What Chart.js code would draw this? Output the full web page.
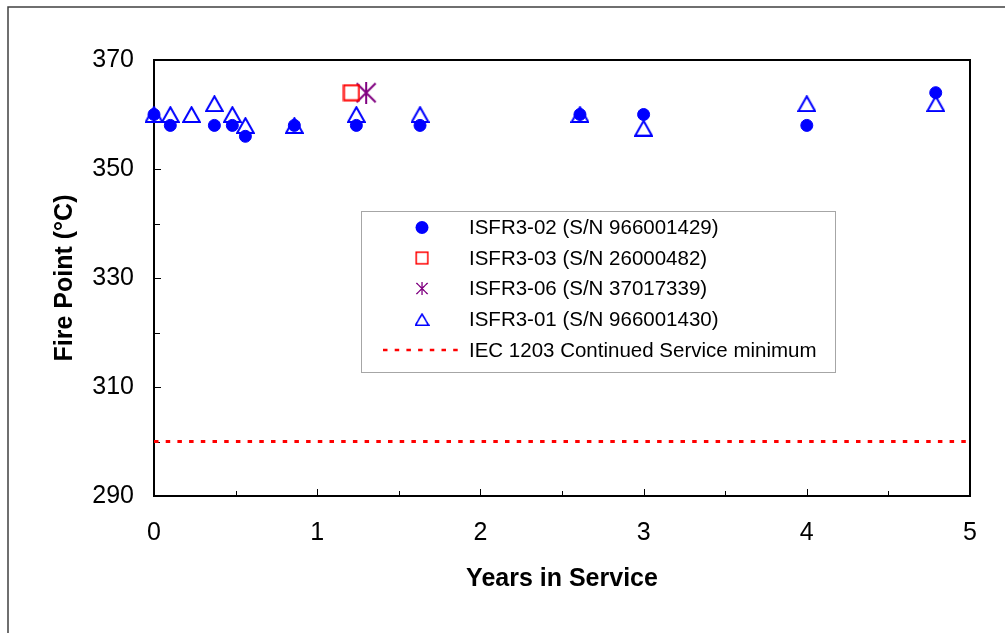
<!DOCTYPE html>
<html><head><meta charset="utf-8">
<script src="https://cdn.jsdelivr.net/npm/chart.js@4.4.1/dist/chart.umd.min.js"></script>
<style>html,body{margin:0;padding:0;background:#fff;}#wrap{position:relative;width:1005px;height:633px;}</style>
</head><body><div id="wrap"><canvas id="c"></canvas></div>
<script>
// ---- data ----
const seriesNames = ['ISFR3-02 (S/N 966001429)', 'ISFR3-03 (S/N 26000482)', 'ISFR3-06 (S/N 37017339)', 'ISFR3-01 (S/N 966001430)', 'IEC 1203 Continued Service minimum'];
const years02 = [0, 0.1, 0.37, 0.48, 0.56, 0.86, 1.24, 1.63, 2.61, 3.0, 4.0, 4.79];
const fire02  = [360, 358, 358, 358, 356, 358, 358, 358, 360, 360, 358, 364];
const years03 = [1.21];
const fire03  = [364];
const years06 = [1.3];
const fire06  = [364];
const years01 = [0, 0.1, 0.23, 0.37, 0.48, 0.56, 0.86, 1.24, 1.63, 2.61, 3.0, 4.0, 4.79];
const fire01  = [360, 360, 360, 362, 360, 358, 358, 360, 360, 360, 357.5, 362, 362];
const limitYears = [0, 5];
const limitFire  = [300, 300];
const xLabelValues = [0, 1, 2, 3, 4, 5];
const yLabelValues = [290, 310, 330, 350, 370];
const xTitle = 'Years in Service';
const yTitle = 'Fire Point (°C)';

const FONT = "'Liberation Sans', Arial, sans-serif";
const pts = (xs, ys) => xs.map((x, i) => ({x, y: ys[i]}));

function makeMarker(kind, w, h) {
  const c = document.createElement('canvas');
  c.width = w; c.height = h;
  const g = c.getContext('2d');
  g.lineWidth = 2;
  if (kind === 'triangle') {
    g.strokeStyle = '#0000ff';
    g.beginPath();
    g.moveTo(w / 2, 1.2);
    g.lineTo(1.2, h - 1);
    g.lineTo(w - 1.2, h - 1);
    g.closePath();
    g.stroke();
  } else if (kind === 'square') {
    g.strokeStyle = '#ff0000';
    g.strokeRect(1.5, 1.5, w - 3, h - 3);
  } else if (kind === 'star') {
    g.strokeStyle = '#800080';
    g.beginPath();
    g.moveTo(1.5, 1.5); g.lineTo(w - 1.5, h - 1.5);
    g.moveTo(w - 1.5, 1.5); g.lineTo(1.5, h - 1.5);
    g.moveTo(w / 2, 0); g.lineTo(w / 2, h);
    g.stroke();
  }
  return c;
}
const triImg = makeMarker('triangle', 19, 17);
const sqImg = makeMarker('square', 18, 18);
const starImg = makeMarker('star', 22, 22);

const framePlugin = {
  id: 'frame',
  beforeDraw(chart) {
    const ctx = chart.ctx;
    ctx.save();
    ctx.strokeStyle = '#404040';
    ctx.lineWidth = 1.5;
    ctx.beginPath();
    ctx.moveTo(8, 640); ctx.lineTo(8, 7); ctx.lineTo(1010, 7);
    ctx.stroke();
    ctx.restore();
  },
  beforeDatasetsDraw(chart) {
    const ctx = chart.ctx, a = chart.chartArea;
    const xs = chart.scales.x, ys = chart.scales.y;
    ctx.save();
    ctx.strokeStyle = '#000';
    ctx.lineWidth = 1;
    ctx.beginPath();
    xs.ticks.forEach(t => {
      const p = Math.round(xs.getPixelForValue(t.value)) + 0.5;
      const len = xLabelValues.includes(t.value) ? 7 : 5;
      ctx.moveTo(p, a.bottom); ctx.lineTo(p, a.bottom - len);
    });
    ys.ticks.forEach(t => {
      const p = Math.round(ys.getPixelForValue(t.value)) + 0.5;
      const len = yLabelValues.includes(t.value) ? 7 : 6;
      ctx.moveTo(a.left, p); ctx.lineTo(a.left + len, p);
    });
    ctx.stroke();
    ctx.lineWidth = 2;
    ctx.strokeRect(a.left, a.top, a.right - a.left, a.bottom - a.top);
    ctx.restore();
  },
  afterDraw(chart) {
    const ctx = chart.ctx;
    ctx.save();
    const bx = 361, by = 211, bw = 474, bh = 161;
    ctx.fillStyle = '#fff';
    ctx.fillRect(bx, by, bw, bh);
    ctx.strokeStyle = '#a6a6a6';
    ctx.lineWidth = 1;
    ctx.strokeRect(bx + 0.5, by + 0.5, bw, bh);
    const rows = [227.5, 258, 288.5, 319.5, 350];
    const mx = 422, tx = 469;
    ctx.font = '20.5px ' + FONT;
    ctx.fillStyle = '#000';
    ctx.textBaseline = 'middle';
    ctx.textAlign = 'left';
    seriesNames.forEach((name, i) => {
      const y = rows[i];
      if (i === 0) {
        ctx.beginPath(); ctx.arc(mx, y, 6.5, 0, Math.PI * 2);
        ctx.fillStyle = '#0000ff'; ctx.fill();
      } else if (i === 1) {
        ctx.drawImage(sqImg, mx - 7, y - 7, 14, 14);
      } else if (i === 2) {
        ctx.drawImage(starImg, mx - 6.5, y - 6.5, 13, 13);
      } else if (i === 3) {
        ctx.drawImage(triImg, mx - 7.5, y - 6.5, 15, 13);
      } else {
        ctx.beginPath();
        ctx.strokeStyle = '#ff0000'; ctx.lineWidth = 2.5;
        ctx.setLineDash([4.5, 7.2]);
        ctx.moveTo(383, y); ctx.lineTo(460, y); ctx.stroke();
        ctx.setLineDash([]);
      }
      ctx.fillStyle = '#000';
      ctx.fillText(name, tx, y + 1);
    });
    ctx.restore();
  }
};

new Chart(document.getElementById('c'), {
  type: 'scatter',
  data: {
    datasets: [
      {label: seriesNames[0], data: pts(years02, fire02), pointStyle: 'circle', pointRadius: 6, borderWidth: 1,
       backgroundColor: '#0000ff', borderColor: '#0000ff', clip: false},
      {label: seriesNames[1], data: pts(years03, fire03), pointStyle: sqImg, pointRadius: 9, clip: false},
      {label: seriesNames[2], data: pts(years06, fire06), pointStyle: starImg, pointRadius: 11, clip: false},
      {label: seriesNames[3], data: pts(years01, fire01), pointStyle: triImg, pointRadius: 9, clip: false},
      {type: 'line', label: seriesNames[4], data: pts(limitYears, limitFire), borderColor: '#ff0000', borderWidth: 3,
       borderDash: [4.5, 7.2], pointRadius: 0, fill: false, clip: false}
    ]
  },
  options: {
    responsive: true,
    maintainAspectRatio: false,
    animation: false,
    events: [],
    layout: {padding: {top: 60, right: 35, left: 0, bottom: 0}},
    plugins: {legend: {display: false}, tooltip: {enabled: false}},
    scales: {
      x: {
        type: 'linear', min: 0, max: 5,
        grid: {display: false, drawTicks: false},
        border: {display: false},
        ticks: {stepSize: 0.5, autoSkip: false, maxRotation: 0, padding: 22, color: '#000',
          font: {family: FONT, size: 25},
          callback: v => xLabelValues.includes(v) ? String(v) : ''},
        title: {display: true, text: xTitle, color: '#000', font: {family: FONT, size: 25, weight: 'bold'},
          padding: {top: 0, bottom: 39}},
        afterFit: s => { s.height = 137; }
      },
      y: {
        type: 'linear', min: 290, max: 370,
        grid: {display: false, drawTicks: false},
        border: {display: false},
        ticks: {stepSize: 10, autoSkip: false, padding: 20, color: '#000',
          font: {family: FONT, size: 25},
          callback: v => yLabelValues.includes(v) ? String(v) : ''},
        title: {display: true, text: yTitle, color: '#000', font: {family: FONT, size: 25, weight: 'bold'},
          padding: {top: 50, bottom: 0}},
        afterFit: s => { s.width = 154; }
      }
    }
  },
  plugins: [framePlugin]
});
</script>
</body></html>
